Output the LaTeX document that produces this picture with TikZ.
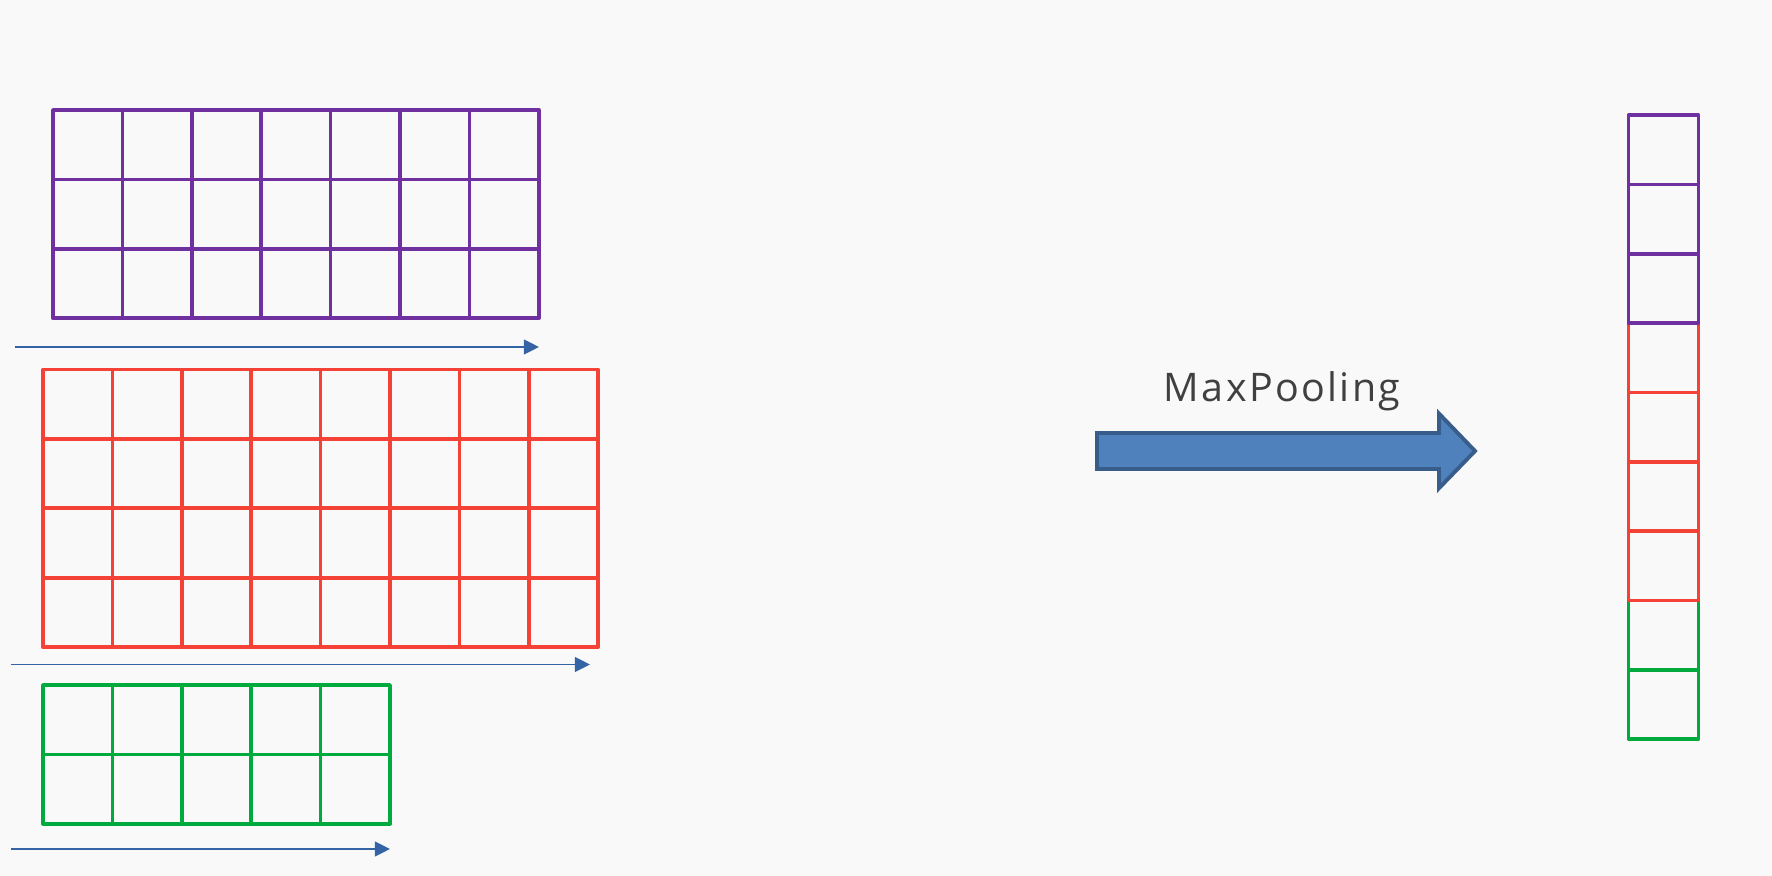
\documentclass[tikz,border=0pt]{standalone}
\usepackage{fontspec}
\setmainfont{Open Sans}
\newfontfamily\poolfont[LetterSpace=6]{Open Sans}
\usetikzlibrary{arrows.meta}
\definecolor{gridPurple}{RGB}{112,48,160}
\definecolor{gridRed}{RGB}{244,67,54}
\definecolor{gridGreen}{RGB}{0,170,60}
\definecolor{flowBlue}{RGB}{52,100,165}
\definecolor{poolFill}{RGB}{79,129,189}
\definecolor{poolEdge}{RGB}{56,93,138}
\definecolor{labelGray}{RGB}{64,64,64}
\definecolor{paper}{RGB}{249,249,249}

\begin{document}
\begin{tikzpicture}[x=0.01cm, y=-0.01cm,
	cell/.style={line width=1.05pt, line join=round},
	flow/.style={flowBlue, line width=0.5pt, -{Triangle[length=4.3pt, width=4.2pt]}}]
	\fill[paper] (0,0) rectangle (1772,876);
	\useasboundingbox (0,0) rectangle (1772,876);

	% input maps
	\foreach \i in {0,...,6} \foreach \j in {0,...,2}
		\draw[cell, gridPurple] (53+\i*69.4, 110+\j*69.4) rectangle ++(69.4,69.4);
	\foreach \i in {0,...,7} \foreach \j in {0,...,3}
		\draw[cell, gridRed] (43+\i*69.4, 369.5+\j*69.4) rectangle ++(69.4,69.4);
	\foreach \i in {0,...,4} \foreach \j in {0,...,1}
		\draw[cell, gridGreen] (43+\i*69.4, 685+\j*69.4) rectangle ++(69.4,69.4);

	% sliding direction
	\coordinate (purpleFrom) at (15,347);
	\coordinate (purpleTo) at (539,347);
	\coordinate (redFrom) at (11,664.5);
	\coordinate (redTo) at (590,664.5);
	\coordinate (greenFrom) at (11,849);
	\coordinate (greenTo) at (390,849);
	\draw[flow] (purpleFrom) -- (purpleTo);
	\draw[flow] (redFrom) -- (redTo);
	\draw[flow] (greenFrom) -- (greenTo);

	% pooling arrow
	\draw[poolEdge, fill=poolFill, line width=1.1pt, line join=miter]
		(1097,433) -- (1439,433) -- (1439,413.6) -- (1475,451) -- (1439,488.2)
		-- (1439,469) -- (1097,469) -- cycle;
	\node[labelGray, anchor=base, font=\poolfont\fontsize{11.2}{13}\selectfont] (poolLabel) at (1282,402) {MaxPooling};

	% pooled vector
	\foreach \k/\c in {7/gridGreen, 8/gridGreen, 3/gridRed, 4/gridRed, 5/gridRed, 6/gridRed, 0/gridPurple, 1/gridPurple, 2/gridPurple}
		\draw[cell, \c] (1628.5, 115.3+\k*69.3) rectangle ++(70,69.3);
\end{tikzpicture}
\end{document}
